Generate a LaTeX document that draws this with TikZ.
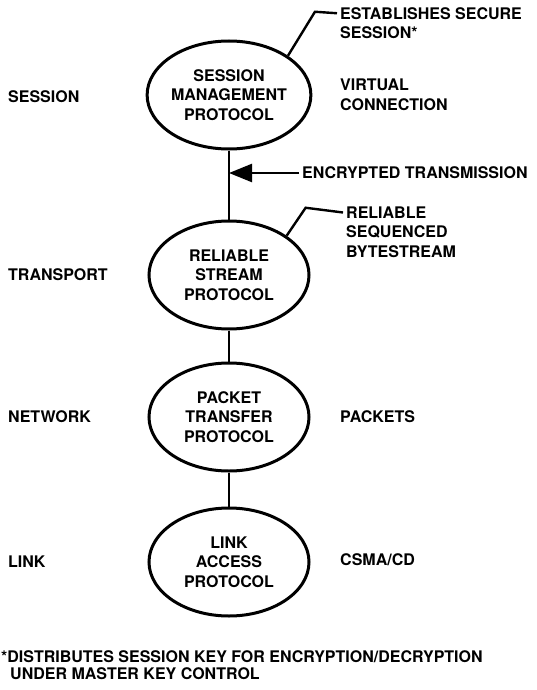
\documentclass[tikz,border=0pt]{standalone}
\usepackage{fontspec}
\setmainfont{TeX Gyre Heros}
\usetikzlibrary{shapes.geometric,arrows.meta}
\begin{document}
\begin{tikzpicture}[x=1pt,y=-1pt,
    every node/.style={font=\bfseries\fontsize{16}{19.5}\selectfont,inner sep=0pt},
    proto/.style={ellipse,draw,line width=3pt,minimum width=160pt,minimum height=108pt,align=center},
    note/.style={anchor=west,align=left},
    wire/.style={line width=2.4pt}]
  \useasboundingbox (0,0) rectangle (536,690);
  \node[proto] (sm) at (229,95)  {SESSION\\MANAGEMENT\\PROTOCOL};
  \node[proto] (rs) at (229,275) {RELIABLE\\STREAM\\PROTOCOL};
  \node[proto] (pt) at (229,417) {PACKET\\TRANSFER\\PROTOCOL};
  \node[proto] (la) at (229,562) {LINK\\ACCESS\\PROTOCOL};
  \foreach \name/\y/\lab in {ses/97/SESSION,tra/275/TRANSPORT,net/417/NETWORK,lnk/562/LINK}
    \node[note] (\name) at (8,\y) {\lab};
  \node[note] (vc) at (340,95)  {VIRTUAL\\CONNECTION};
  \node[note] (pk) at (340,417) {PACKETS};
  \node[note] (cs) at (340,560) {CSMA/CD};
  \node[note] (est) at (340,23)  {ESTABLISHES SECURE\\SESSION*};
  \node[note] (rsb) at (346,232) {RELIABLE\\SEQUENCED\\BYTESTREAM};
  \node[note] (enc) at (302,173) {ENCRYPTED TRANSMISSION};
  \draw[wire] (sm) -- (rs) (rs) -- (pt) (pt) -- (la);
  \draw[wire,shorten <=3pt,-{Triangle[length=23pt,width=18pt]}] (enc.west) -- (enc.west -| sm.south);
  \draw[wire] (sm.north east) -- ++(27,-44) -- ([xshift=-3pt,yshift=9.75pt]est.west);
  \draw[wire] (rs.north east) -- ++(19,-28) -- ([xshift=-3pt,yshift=19.5pt]rsb.west);
  \node[anchor=north west,align=left,font=\bfseries\fontsize{16}{17.5}\selectfont] (fn) at (1,650)
    {*DISTRIBUTES SESSION KEY FOR ENCRYPTION/DECRYPTION\\\hspace{9pt}UNDER MASTER KEY CONTROL};
\end{tikzpicture}
\end{document}
